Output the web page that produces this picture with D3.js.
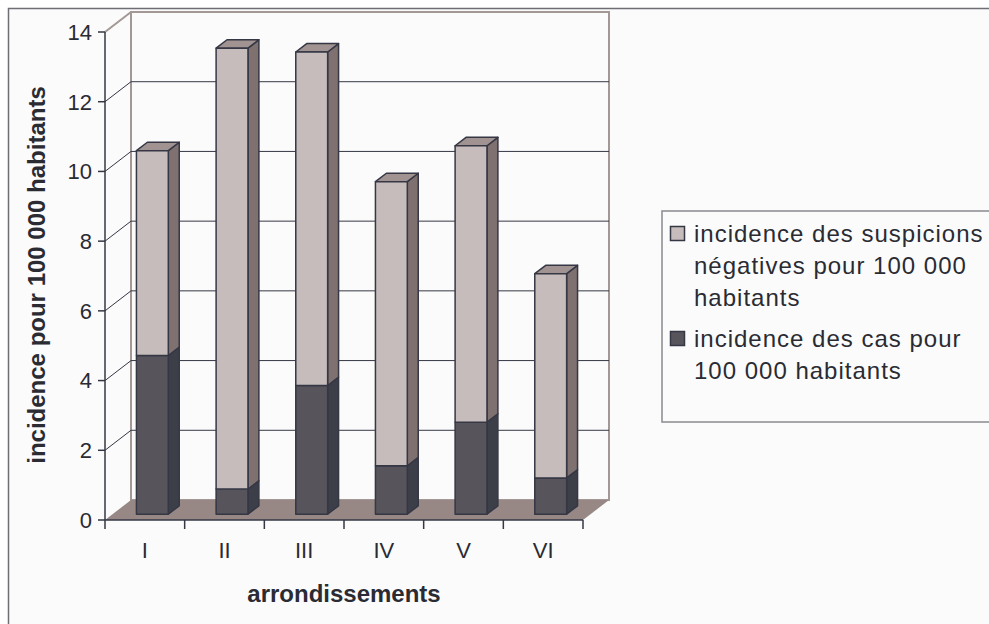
<!DOCTYPE html>
<html>
<head>
<meta charset="utf-8">
<script src="https://d3js.org/d3.v7.min.js"></script>
<style>
    body { margin: 0; background: #ffffff; }
    svg { display: block; font-family: "Liberation Sans", Arial, sans-serif; }
</style>
</head>
<body>
<div id="chartDiv"></div>
<script>

// Chart data
var categories = ["I", "II", "III", "IV", "V", "VI"];
var casValues = [4.55, 0.72, 3.69, 1.39, 2.64, 1.04];
var suspicionValues = [5.88, 12.65, 9.57, 8.15, 7.93, 5.86];
var yTicks = [0, 2, 4, 6, 8, 10, 12, 14];
var seriesNames = [
    ["incidence des suspicions", "négatives pour 100 000", "habitants"],
    ["incidence des cas pour", "100 000 habitants"]
];

// Dimensions and 3D settings
var width = 989;
var height = 624;
var depthX = 26;
var depthY = -20;
var barFront = 0.29;
var barBack = 0.71;

// Colors
var lightFront = "#c6bcbb";
var lightSide = "#7e7170";
var lightTop = "#a09391";
var darkFront = "#57545c";
var darkSide = "#3d3f48";
var darkTop = "#4a4a52";
var outline = "#353745";
var floorColor = "#978886";
var wallBorder = "#a39896";
var textColor = "#2a2b33";

// Scales
var x = d3.scaleBand().domain(categories).range([105, 583]);
var y = d3.scaleLinear().domain([0, 14]).range([520, 32]);

var svg = d3.select("#chartDiv")
    .append("svg")
    .attr("width", width)
    .attr("height", height);

// Outer frame (runs off the picture at right and bottom)
svg.append("rect")
    .attr("x", 8.5)
    .attr("y", 8.5)
    .attr("width", 1000)
    .attr("height", 700)
    .attr("fill", "#fbfbfb")
    .attr("stroke", "#6e6e74")
    .attr("stroke-width", 1.5);

var x0 = x.range()[0];
var x1 = x.range()[1];

// Back wall
svg.append("rect")
    .attr("x", x0 + depthX)
    .attr("y", y(14) + depthY)
    .attr("width", x1 - x0)
    .attr("height", y(0) - y(14))
    .attr("fill", "#fbfbfb")
    .attr("stroke", wallBorder)
    .attr("stroke-width", 2);

// Floor
svg.append("polygon")
    .attr("points", [
        [x0, y(0)], [x1, y(0)], [x1 + depthX, y(0) + depthY], [x0 + depthX, y(0) + depthY]
    ].join(" "))
    .attr("fill", floorColor);

// Gridlines on the back wall and diagonals on the side
yTicks.forEach(function(t) {
    if (t > 0 && t < 14) {
        svg.append("line")
            .attr("x1", x0 + depthX).attr("x2", x1 + depthX)
            .attr("y1", y(t) + depthY).attr("y2", y(t) + depthY)
            .attr("stroke", outline)
            .attr("stroke-width", 1);
    }
    if (t > 0) {
        svg.append("line")
            .attr("x1", x0).attr("y1", y(t))
            .attr("x2", x0 + depthX).attr("y2", y(t) + depthY)
            .attr("stroke", t == 14 ? wallBorder : outline)
            .attr("stroke-width", t == 14 ? 2 : 1);
    }
});

// Draw a 3D box between two values
function drawBox(cat, v0, v1, front, side, top, showTop) {
    var bx = x(cat) + x.bandwidth() * 0.3 + depthX * barFront;
    var bw = x.bandwidth() * 0.4;
    var fy = depthY * barFront;
    var ddx = depthX * (barBack - barFront);
    var ddy = depthY * (barBack - barFront);
    var yb = y(v0) + fy;
    var yt = y(v1) + fy;

    var g = svg.append("g")
        .attr("stroke", outline)
        .attr("stroke-width", 1.5)
        .attr("stroke-linejoin", "round");

    g.append("polygon")
        .attr("points", [[bx + bw, yb], [bx + bw + ddx, yb + ddy], [bx + bw + ddx, yt + ddy], [bx + bw, yt]].join(" "))
        .attr("fill", side);

    if (showTop) {
        g.append("polygon")
            .attr("points", [[bx, yt], [bx + bw, yt], [bx + bw + ddx, yt + ddy], [bx + ddx, yt + ddy]].join(" "))
            .attr("fill", top);
    }

    g.append("rect")
        .attr("x", bx)
        .attr("y", yt)
        .attr("width", bw)
        .attr("height", yb - yt)
        .attr("fill", front);
}

categories.forEach(function(cat, i) {
    var total = casValues[i] + suspicionValues[i];
    drawBox(cat, 0, casValues[i], darkFront, darkSide, darkTop, false);
    drawBox(cat, casValues[i], total, lightFront, lightSide, lightTop, true);
});

// Front axes
svg.append("line")
    .attr("x1", x0).attr("x2", x0)
    .attr("y1", y(14)).attr("y2", y(0))
    .attr("stroke", outline)
    .attr("stroke-width", 1.5);

svg.append("line")
    .attr("x1", x0).attr("x2", x1)
    .attr("y1", y(0)).attr("y2", y(0))
    .attr("stroke", outline)
    .attr("stroke-width", 1.5);

// Y ticks and labels
yTicks.forEach(function(t) {
    svg.append("line")
        .attr("x1", x0 - 7).attr("x2", x0)
        .attr("y1", y(t)).attr("y2", y(t))
        .attr("stroke", outline)
        .attr("stroke-width", 1.5);

    svg.append("text")
        .attr("x", 92)
        .attr("y", y(t))
        .attr("dy", "0.36em")
        .attr("text-anchor", "end")
        .attr("font-size", 22)
        .attr("fill", textColor)
        .text(t);
});

// X ticks and labels
var xTickPos = categories.map(function(c) { return x(c); }).concat([x1]);
xTickPos.forEach(function(p) {
    svg.append("line")
        .attr("x1", p).attr("x2", p)
        .attr("y1", y(0)).attr("y2", y(0) + 9)
        .attr("stroke", outline)
        .attr("stroke-width", 1.5);
});

categories.forEach(function(cat) {
    svg.append("text")
        .attr("x", x(cat) + x.bandwidth() / 2)
        .attr("y", 550)
        .attr("dy", "0.36em")
        .attr("text-anchor", "middle")
        .attr("font-size", 22)
        .attr("fill", textColor)
        .text(cat);
});

// Axis titles
svg.append("text")
    .attr("x", (x0 + x1) / 2)
    .attr("y", 593)
    .attr("dy", "0.36em")
    .attr("text-anchor", "middle")
    .attr("font-size", 24)
    .attr("font-weight", "bold")
    .attr("fill", textColor)
    .text("arrondissements");

svg.append("text")
    .attr("transform", "translate(36,275) rotate(-90)")
    .attr("dy", "0.36em")
    .attr("text-anchor", "middle")
    .attr("font-size", 24)
    .attr("font-weight", "bold")
    .attr("fill", textColor)
    .text("incidence pour 100 000 habitants");

// Legend
svg.append("rect")
    .attr("x", 662)
    .attr("y", 211)
    .attr("width", 400)
    .attr("height", 211)
    .attr("fill", "#fbfbfb")
    .attr("stroke", "#8a8a90")
    .attr("stroke-width", 1.5);

var legendColors = [lightFront, darkFront];
var legendTop = [233, 338];

seriesNames.forEach(function(lines, k) {
    svg.append("rect")
        .attr("x", 670.5)
        .attr("y", legendTop[k] - 6.5)
        .attr("width", 14)
        .attr("height", 14)
        .attr("fill", legendColors[k])
        .attr("stroke", outline)
        .attr("stroke-width", 1.5);

    lines.forEach(function(line, j) {
        svg.append("text")
            .attr("x", 694)
            .attr("y", legendTop[k] + j * 32)
            .attr("dy", "0.36em")
            .attr("font-size", 24)
            .attr("letter-spacing", 1)
            .attr("fill", textColor)
            .text(line);
    });
});

</script>
</body>
</html>
